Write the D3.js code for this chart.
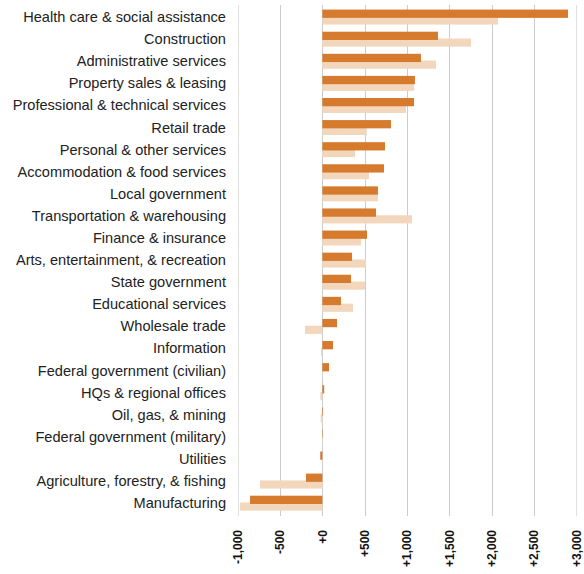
<!DOCTYPE html>
<html><head><meta charset="utf-8">
<script src="https://cdn.jsdelivr.net/npm/d3@7"></script>
<style>body{margin:0;background:#fff}svg{display:block}</style>
</head><body>
<svg id="c" width="584" height="574"></svg>
<script>
const categories = ["Health care & social assistance","Construction","Administrative services","Property sales & leasing","Professional & technical services","Retail trade","Personal & other services","Accommodation & food services","Local government","Transportation & warehousing","Finance & insurance","Arts, entertainment, & recreation","State government","Educational services","Wholesale trade","Information","Federal government (civilian)","HQs & regional offices","Oil, gas, & mining","Federal government (military)","Utilities","Agriculture, forestry, & fishing","Manufacturing"];
const seriesDark = [2902,1366,1165,1094,1083,811,740,728,657,634,528,350,339,220,173,126,79,22,8,6,-25,-193,-854];
const seriesLight = [2075,1756,1343,1083,988,524,386,551,657,1059,457,516,504,362,-205,-16,8,-24,-20,4,3,-736,-972];
const tickValues = [-1000,-500,0,500,1000,1500,2000,2500,3000];
const tickLabels = ["-1,000","-500","+0","+500","+1,000","+1,500","+2,000","+2,500","+3,000"];

const svg = d3.select("#c");
const x = d3.scaleLinear().domain([-1000,3000]).range([237.7,576.3]);
const y = d3.scaleBand().domain(categories).range([5.9,514.1]).padding(0);
const bw = y.bandwidth();

// gridlines
svg.append("g").selectAll("line").data(tickValues).join("line")
  .attr("x1",d=>Math.round(x(d))+0.5).attr("x2",d=>Math.round(x(d))+0.5)
  .attr("y1",5).attr("y2",516)
  .attr("stroke",(d,i)=> (i===0||i===tickValues.length-1)?"#e0e0e0":"#cccccc")
  .attr("stroke-width",1);

// light bars
svg.append("g").selectAll("rect").data(categories).join("rect")
  .attr("x",(d,i)=>x(Math.min(0,seriesLight[i])))
  .attr("width",(d,i)=>Math.abs(x(seriesLight[i])-x(0)))
  .attr("y",d=>y(d)+bw*0.475).attr("height",bw*0.37)
  .attr("fill","#f2d7bd");

// dark bars
svg.append("g").selectAll("rect").data(categories).join("rect")
  .attr("x",(d,i)=>x(Math.min(0,seriesDark[i])))
  .attr("width",(d,i)=>Math.abs(x(seriesDark[i])-x(0)))
  .attr("y",d=>y(d)+bw*0.167).attr("height",bw*0.375)
  .attr("fill","#d67b2e");

// category labels
svg.append("g").selectAll("text").data(categories).join("text")
  .attr("x",226).attr("y",d=>y(d)+bw*0.5).attr("dy","0.35em")
  .attr("text-anchor","end")
  .style("font-family","Liberation Sans, Arial, sans-serif").style("font-size","14.6px").attr("fill","#222")
  .text(d=>d);

// tick labels
svg.append("g").selectAll("text").data(tickValues).join("text")
  .attr("transform",d=>`translate(${x(d)},530) rotate(-90)`)
  .attr("dy","0.35em").attr("text-anchor","end")
  .style("font-family","Liberation Sans, Arial, sans-serif").style("font-size","12px").style("font-weight","bold").attr("fill","#111")
  .text((d,i)=>tickLabels[i]);
</script>
</body></html>
